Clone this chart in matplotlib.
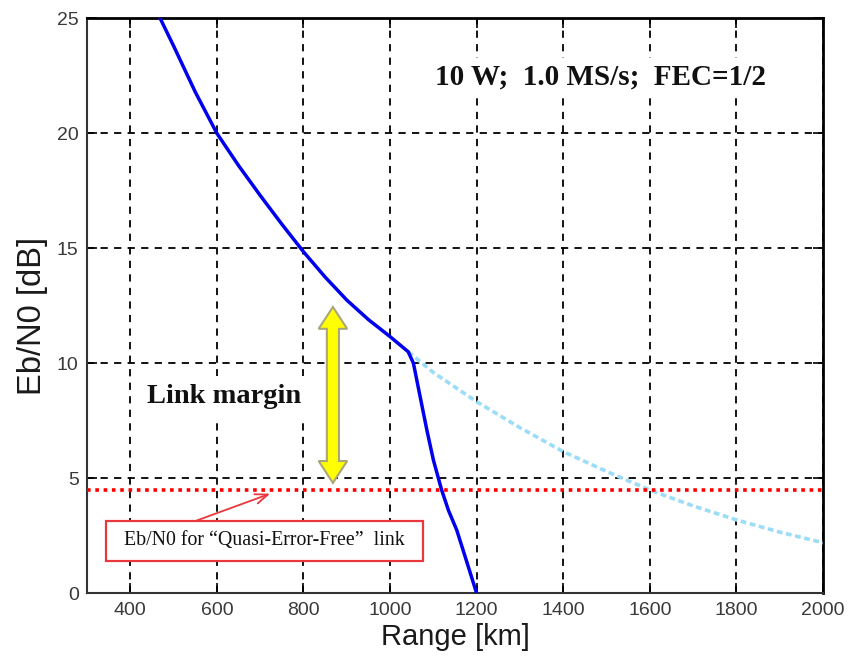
import matplotlib
matplotlib.use("Agg")
import matplotlib.pyplot as plt
from matplotlib.patches import Polygon, Rectangle

# ---------------- data ----------------
# Blue curve: Eb/N0 of the real link (knee near 1040 km, then steep drop)
blue_range = [469, 500, 550, 600, 650, 700, 750, 800, 850, 900, 950, 1000, 1042,
              1054, 1070, 1085, 1100, 1119, 1135, 1154, 1175, 1200]
blue_ebn0 = [25.0, 23.8, 21.8, 20.0, 18.6, 17.3, 16.05, 14.85, 13.75, 12.75, 11.9,
             11.16, 10.5, 10.0, 8.5, 7.1, 5.8, 4.5, 3.6, 2.75, 1.5, 0.0]

# Light blue dotted curve: continuation past the knee
cyan_range = [1042, 1100, 1200, 1300, 1400, 1500, 1600, 1700, 1800, 1900, 2000]
cyan_ebn0 = [10.5, 9.6, 8.33, 7.2, 6.16, 5.3, 4.49, 3.8, 3.19, 2.66, 2.2]

# Quasi-error-free threshold
qef_threshold = 4.5

x_ticks = [400, 600, 800, 1000, 1200, 1400, 1600, 1800, 2000]
y_ticks = [0, 5, 10, 15, 20, 25]
x_limits = (300, 2000)
y_limits = (0, 25)

title_text = "10 W;  1.0 MS/s;  FEC=1/2"
margin_text = "Link margin"
box_text = "Eb/N0 for \u201cQuasi-Error-Free\u201d  link"
x_label = "Range [km]"
y_label = "Eb/N0 [dB]"

# link-margin arrow (data units)
arrow_x = 868
arrow_top = 12.45
arrow_bottom = 4.8

# annotation box (data units)
box_x0, box_x1 = 344, 1077
box_y0, box_y1 = 1.42, 3.16

# ---------------- figure ----------------
fig = plt.figure(figsize=(8.48, 6.69), dpi=100)
ax = fig.add_axes([0.1026, 0.1132, 0.8679, 0.8594])

serif = ["Liberation Serif", "DejaVu Serif"]
sans = ["Liberation Sans", "DejaVu Sans"]

ax.set_xlim(*x_limits)
ax.set_ylim(*y_limits)
ax.set_xticks(x_ticks)
ax.set_yticks(y_ticks)

ax.grid(True, color="black", linestyle=(0, (4, 3.5)), linewidth=1.3)
ax.set_axisbelow(True)

ax.tick_params(direction="in", length=7, width=1.2, top=True, right=True,
               labelsize=14, labelcolor="#3a3a3a", pad=6)
for lab in ax.get_xticklabels() + ax.get_yticklabels():
    lab.set_family(sans)

for side in ["left", "bottom"]:
    ax.spines[side].set_linewidth(1.5)
    ax.spines[side].set_color("#333333")
for side in ["right", "top"]:
    ax.spines[side].set_linewidth(2.0)
    ax.spines[side].set_color("black")

# curves
ax.plot(cyan_range, cyan_ebn0, color="#9bdcf6", linewidth=2.6,
        linestyle=(0, (1.6, 1.0)), zorder=3)
ax.plot(blue_range, blue_ebn0, color="#0000ee", linewidth=2.5, zorder=4,
        solid_joinstyle="round")
ax.axhline(qef_threshold, color="#ff0000", linewidth=2.6,
           linestyle=(0, (1, 1.3)), zorder=4)

# yellow double-headed arrow
sw = 14.0   # shaft half-width (x data units)
hw = 33.0   # head half-width
hl = 0.95   # head length (y data units)
verts = [
    (arrow_x, arrow_top),
    (arrow_x + hw, arrow_top - hl),
    (arrow_x + sw, arrow_top - hl),
    (arrow_x + sw, arrow_bottom + hl),
    (arrow_x + hw, arrow_bottom + hl),
    (arrow_x, arrow_bottom),
    (arrow_x - hw, arrow_bottom + hl),
    (arrow_x - sw, arrow_bottom + hl),
    (arrow_x - sw, arrow_top - hl),
    (arrow_x - hw, arrow_top - hl),
]
ax.add_patch(Polygon(verts, closed=True, facecolor="#ffff00",
                     edgecolor="#a9a77a", linewidth=1.5, zorder=5))

# texts (white background hides the grid behind them)
ax.text(1487, 22.45, title_text, family=serif, fontsize=21, fontweight="bold",
        color="#111111", ha="center", va="center", zorder=6,
        bbox=dict(boxstyle="square,pad=0.2", facecolor="white", edgecolor="none"))
ax.text(616, 8.55, margin_text, family=serif, fontsize=20.5, fontweight="bold",
        color="#111111", ha="center", va="center", zorder=6,
        bbox=dict(boxstyle="square,pad=0.3", facecolor="white", edgecolor="none"))

# annotation box with arrow
ax.add_patch(Rectangle((box_x0, box_y0), box_x1 - box_x0, box_y1 - box_y0,
                       facecolor="white", edgecolor="#e8383d", linewidth=1.6,
                       zorder=6))
ax.text((box_x0 + box_x1) / 2, (box_y0 + box_y1) / 2, box_text, family=serif,
        fontsize=14.3, color="#111111", ha="center", va="center", zorder=7)
ax.annotate("", xy=(723, 4.33), xytext=(553, box_y1),
            arrowprops=dict(arrowstyle="->,head_length=0.9,head_width=0.35",
                            color="#e8383d", linewidth=1.3, shrinkA=0, shrinkB=0),
            zorder=6)

ax.set_xlabel(x_label, family=sans, fontsize=21, color="#1a1a1a", labelpad=3)
ax.set_ylabel(y_label, family=sans, fontsize=23.5, color="#1a1a1a", labelpad=3)
ax.yaxis.set_label_coords(-0.053, 0.482)

fig.savefig("out.png", dpi=100)
